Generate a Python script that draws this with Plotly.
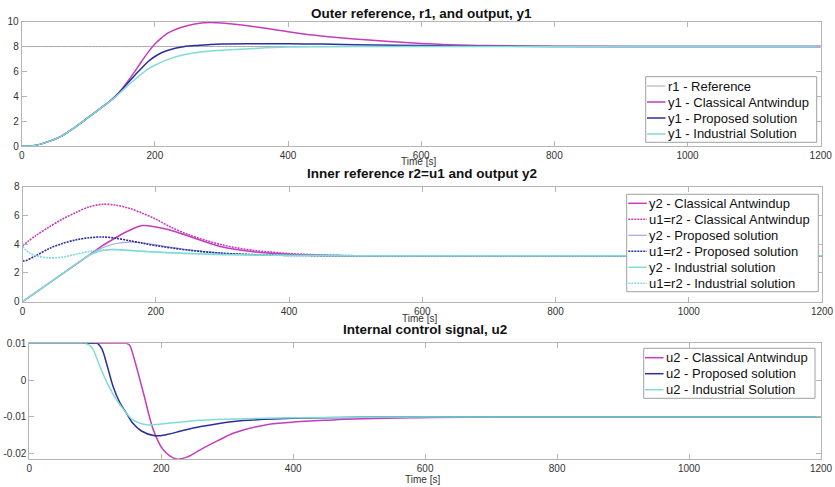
import plotly.graph_objects as go

W, H = 835, 487

# ---------------- data ----------------
# Panel 1: outer reference r1 and output y1
t_y1 = [0, 20, 40, 60, 80, 100, 120, 130, 140, 150, 160, 170, 180, 190, 200, 210, 220, 240,
        260, 280, 300, 350, 400, 450, 500, 600, 700, 800, 1000, 1200]
r1_ref = [8] * len(t_y1)
y1_classical = [0, 0.05, 0.35, 0.8, 1.5, 2.3, 3.1, 3.5, 3.95, 4.55, 5.25, 6.0, 6.8, 7.55, 8.2,
                8.7, 9.1, 9.55, 9.82, 9.93, 9.9, 9.6, 9.2, 8.85, 8.6, 8.25, 8.08, 8.02, 8.0, 8.0]
y1_proposed = [0, 0.05, 0.35, 0.8, 1.5, 2.3, 3.1, 3.5, 3.95, 4.5, 5.1, 5.7, 6.25, 6.8, 7.2,
               7.5, 7.7, 7.97, 8.08, 8.15, 8.2, 8.22, 8.22, 8.2, 8.15, 8.08, 8.03, 8.01, 8.0, 8.0]
y1_industrial = [0, 0.05, 0.35, 0.8, 1.5, 2.3, 3.1, 3.5, 3.92, 4.4, 4.9, 5.35, 5.8, 6.2, 6.5,
                 6.75, 6.97, 7.3, 7.5, 7.62, 7.7, 7.85, 7.96, 7.98, 8.0, 8.0, 8.0, 8.0, 8.0, 8.0]

# Panel 2: inner reference r2=u1 and output y2
t_y2c = [0, 50, 100, 120, 140, 160, 180, 200, 220, 250, 300, 350, 400, 450, 500, 600, 1200]
y2_classical = [0, 1.62, 3.24, 3.9, 4.45, 4.95, 5.3, 5.2, 5.0, 4.55, 3.8, 3.45, 3.3, 3.22, 3.2, 3.2, 3.2]
t_u1c = [0, 20, 40, 60, 80, 100, 120, 140, 160, 180, 200, 220, 250, 300, 350, 400, 450, 500, 600, 1200]
u1_classical = [3.9, 4.6, 5.2, 5.75, 6.2, 6.6, 6.78, 6.72, 6.5, 6.15, 5.75, 5.25, 4.65, 3.95, 3.55,
                3.35, 3.25, 3.2, 3.2, 3.2]
t_y2p = [0, 50, 100, 110, 120, 140, 160, 180, 200, 250, 300, 350, 400, 500, 600, 1200]
y2_proposed = [0, 1.62, 3.24, 3.5, 3.75, 4.05, 4.15, 4.1, 3.95, 3.6, 3.38, 3.27, 3.22, 3.2, 3.2, 3.2]
t_u1p = [0, 1, 20, 40, 60, 80, 100, 120, 140, 160, 180, 200, 250, 300, 350, 400, 500, 600, 1200]
u1_proposed = [3.9, 2.85, 3.2, 3.7, 4.05, 4.3, 4.45, 4.5, 4.42, 4.25, 4.07, 3.9, 3.58, 3.37, 3.27,
               3.22, 3.2, 3.2, 3.2]
t_y2i = [0, 50, 100, 115, 130, 150, 200, 250, 300, 400, 500, 600, 1200]
y2_industrial = [0, 1.62, 3.22, 3.5, 3.62, 3.6, 3.45, 3.35, 3.28, 3.22, 3.2, 3.2, 3.2]
t_u1i = [0, 10, 20, 40, 60, 80, 100, 120, 140, 160, 200, 250, 300, 400, 500, 600, 1200]
u1_industrial = [3.85, 3.4, 3.2, 3.05, 3.1, 3.3, 3.5, 3.6, 3.62, 3.58, 3.45, 3.35, 3.28, 3.22, 3.2,
                 3.2, 3.2]

# Panel 3: internal control signal u2
t_u2c = [0, 140, 147, 152, 158, 173, 188, 203, 223, 240, 259, 285, 309, 360, 460, 590, 700, 1200]
u2_classical = [0.01, 0.01, 0.01, 0.0095, 0.0064, -0.0035, -0.0135, -0.0189, -0.0214, -0.0208,
                -0.0189, -0.0165, -0.0144, -0.0121, -0.0108, -0.0102, -0.01, -0.01]
t_u2p = [0, 95, 103, 110, 117, 127, 137, 147, 157, 170, 190, 210, 230, 260, 310, 410, 500, 600, 1200]
u2_proposed = [0.01, 0.01, 0.01, 0.0085, 0.0046, -0.0017, -0.006, -0.0089, -0.0117, -0.0138,
               -0.0151, -0.0147, -0.0138, -0.0126, -0.0112, -0.0103, -0.0101, -0.01, -0.01]
t_u2i = [0, 78, 85, 95, 107, 120, 132, 143, 157, 178, 200, 250, 300, 400, 500, 600, 1200]
u2_industrial = [0.01, 0.01, 0.01, 0.0088, 0.0037, -0.0015, -0.0053, -0.008, -0.0108, -0.0121,
                 -0.0119, -0.011, -0.0106, -0.0102, -0.0101, -0.01, -0.01]

x_ticks = [0, 200, 400, 600, 800, 1000, 1200]
y1_ticks = [0, 2, 4, 6, 8, 10]
y2_ticks = [0, 2, 4, 6, 8]
u2_ticks = [-0.02, -0.01, 0, 0.01]
u2_tick_labels = ["-0.02", "-0.01", "0", "0.01"]

titles = ["Outer reference, r1, and output, y1",
          "Inner reference r2=u1 and output y2",
          "Internal control signal, u2"]

# ---------------- styles ----------------
MAG = "#C43DBB"
BLU = "#2B2F9C"
CYA = "#80DCD7"
LAV = "#A6A6E6"
GRY = "#A8A8A8"
FONT = "Liberation Sans, Arial, Helvetica, sans-serif"
DOT = "2px,1px"

# panel boxes in viewport pixels: (x0, x1, ytop, ybottom)
P = [(21.7, 820.7, 21.7, 146.0),
     (22.5, 822.0, 186.7, 301.7),
     (29.3, 821.0, 343.3, 459.0)]


def px(x):
    return x / W


def py(y):
    return 1 - y / H


fig = go.Figure()

series = [
    # panel, t, v, name, color, dash, width
    (1, t_y1, r1_ref, "r1 - Reference", GRY, "solid", 1.0),
    (1, t_y1, y1_classical, "y1 - Classical Antwindup", MAG, "solid", 1.5),
    (1, t_y1, y1_proposed, "y1 - Proposed solution", BLU, "solid", 1.5),
    (1, t_y1, y1_industrial, "y1 - Industrial Solution", CYA, "solid", 1.5),
    (2, t_y2c, y2_classical, "y2 - Classical Antwindup", MAG, "solid", 1.5),
    (2, t_u1c, u1_classical, "u1=r2 - Classical Antwindup", MAG, DOT, 1.6),
    (2, t_y2p, y2_proposed, "y2 - Proposed solution", LAV, "solid", 1.2),
    (2, t_u1p, u1_proposed, "u1=r2 - Proposed solution", BLU, DOT, 1.6),
    (2, t_y2i, y2_industrial, "y2 - Industrial solution", CYA, "solid", 1.5),
    (2, t_u1i, u1_industrial, "u1=r2 - Industrial solution", CYA, DOT, 1.6),
    (3, t_u2c, u2_classical, "u2 - Classical Antwindup", MAG, "solid", 1.5),
    (3, t_u2p, u2_proposed, "u2 - Proposed solution", BLU, "solid", 1.5),
    (3, t_u2i, u2_industrial, "u2 - Industrial Solution", CYA, "solid", 1.5),
]

for panel, t, v, name, color, dash, width in series:
    sfx = "" if panel == 1 else str(panel)
    fig.add_trace(go.Scatter(
        x=t, y=v, mode="lines", name=name, showlegend=False,
        line=dict(color=color, dash=dash, width=width, shape="spline", smoothing=0.9),
        xaxis="x" + sfx, yaxis="y" + sfx))

axis_common = dict(showline=True, linecolor="#B5B5B5", linewidth=1, mirror="ticks",
                   ticks="inside", ticklen=5, tickcolor="#B5B5B5", showgrid=False,
                   zeroline=False, automargin=False,
                   tickfont=dict(family=FONT, size=10, color="#333333"))

yranges = [[0, 10], [0, 8], [-0.0214, 0.01]]
ytickvals = [y1_ticks, y2_ticks, u2_ticks]
yticktext = [[str(v) for v in y1_ticks], [str(v) for v in y2_ticks], u2_tick_labels]

layout = dict(width=W, height=H, autosize=False, template="none",
              margin=dict(l=0, r=0, t=0, b=0),
              paper_bgcolor="white", plot_bgcolor="white", showlegend=False)

for i, (x0, x1, yt, yb) in enumerate(P):
    sfx = "" if i == 0 else str(i + 1)
    layout["xaxis" + sfx] = dict(axis_common, domain=[px(x0), px(x1)], range=[0, 1200],
                                 tickvals=x_ticks, anchor="y" + sfx)
    layout["yaxis" + sfx] = dict(axis_common, domain=[py(yb), py(yt)], range=yranges[i],
                                 tickvals=ytickvals[i], ticktext=yticktext[i],
                                 anchor="x" + sfx)

fig.update_layout(**layout)

annotations = []
shapes = []
title_y = [13, 173.5, 329]
time_y = [162, 318, 479]
for i, (x0, x1, yt, yb) in enumerate(P):
    xc = (x0 + x1) / 2
    annotations.append(dict(text="<b>" + titles[i] + "</b>", x=px(xc), y=py(title_y[i]),
                            xref="paper", yref="paper", showarrow=False,
                            xanchor="center", yanchor="middle",
                            font=dict(family=FONT, size=13.5, color="#111111")))
    annotations.append(dict(text="Time [s]", x=px(xc - 3), y=py(time_y[i]),
                            xref="paper", yref="paper", showarrow=False,
                            xanchor="center", yanchor="middle",
                            font=dict(family=FONT, size=10, color="#333333")))

# legends (box: x0, x1, ytop, ybottom ; first row y ; row step ; key x0)
legends = [
    (1, (645.7, 816.7, 76.7, 142.3), 86.0, 16.0, 647.0),
    (2, (626.7, 818.3, 194.3, 291.7), 203.3, 16.0, 628.3),
    (3, (643.7, 815.0, 348.3, 398.3), 357.7, 16.0, 645.0),
]
for panel, (bx0, bx1, byt, byb), row0, step, kx0 in legends:
    shapes.append(dict(type="rect", xref="paper", yref="paper",
                       x0=px(bx0), x1=px(bx1), y0=py(byb), y1=py(byt),
                       line=dict(color="#A0A0A0", width=1), fillcolor="white", layer="above"))
    items = [s for s in series if s[0] == panel]
    for k, (_, _, _, name, color, dash, width) in enumerate(items):
        yy = row0 + k * step
        shapes.append(dict(type="line", xref="paper", yref="paper",
                           x0=px(kx0), x1=px(kx0 + 18.5), y0=py(yy), y1=py(yy),
                           line=dict(color=color, dash=dash, width=min(width, 1.5)),
                           layer="above"))
        annotations.append(dict(text=name, x=px(kx0 + 19), y=py(yy),
                                xref="paper", yref="paper", showarrow=False,
                                xanchor="left", yanchor="middle",
                                font=dict(family=FONT, size=13, color="#111111")))

fig.update_layout(annotations=annotations, shapes=shapes)

# remove the default page margin so the 835x487 figure fills the window exactly
fig.write_html("out.html",
               config={"displayModeBar": False},
               post_script="document.body.style.margin='0';document.body.style.overflow='hidden';")
